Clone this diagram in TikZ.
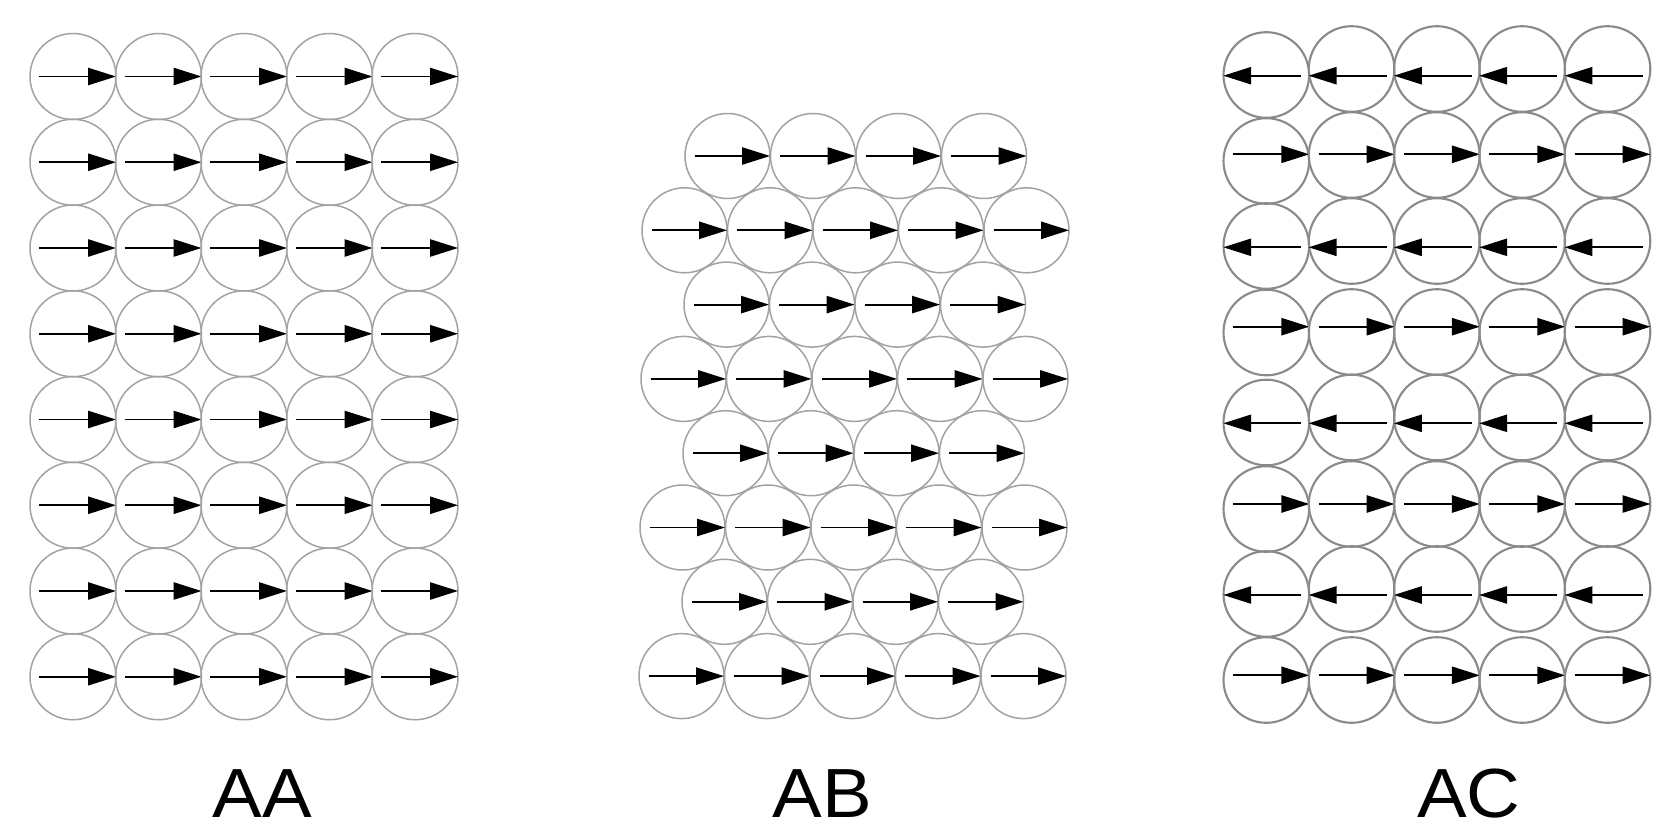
\documentclass[tikz,border=0pt]{standalone}
\usepackage{fontspec}
\setmainfont{Liberation Sans}
\usetikzlibrary{arrows.meta}
\definecolor{ballgray}{HTML}{A2A2A2}
\definecolor{ballgrayc}{HTML}{8A8A8A}
\tikzset{
  ball/.style={draw=ballgray, line width=0.85pt},
  ballc/.style={draw=ballgrayc, line width=1.2pt},
  spin/.style={line width=1.05pt, -{Triangle[length=15.9pt,width=9.8pt]}},
  tag/.style={font=\fontsize{39.6}{40}\selectfont, anchor=base, xscale=1.07, inner sep=0pt}
}
\begin{document}
\begin{tikzpicture}[x=0.02cm, y=-0.02cm]
  \useasboundingbox[fill=white] (0,0) rectangle (1654,825);

  % square stacking, all spins aligned
  \foreach \j in {0,...,7}{
    \foreach \i in {0,...,4}{
      \pgfmathsetmacro\cx{73+85.5*\i}
      \pgfmathsetmacro\cy{76.5+85.75*\j}
      \draw[ball] (\cx,\cy) circle[radius=43];
      \draw[spin] (\cx-34,\cy) -- (\cx+43,\cy);
    }
  }
  \node[tag] (labA) at (262,817) {AA};

  % close-packed stacking, rows of 4 and 5
  \foreach \j in {0,...,7}{
    \pgfmathtruncatemacro\odd{mod(\j,2)}
    \pgfmathsetmacro\cy{156+74.3*\j}
    \pgfmathsetmacro\xo{727.5-42.5*\odd-0.5*\j}
    \pgfmathtruncatemacro\n{3+\odd}
    \foreach \i in {0,...,\n}{
      \pgfmathsetmacro\cx{\xo+85.5*\i}
      \draw[ball] (\cx,\cy) circle[radius=42.5];
      \draw[spin] (\cx-33,\cy) -- (\cx+42.5,\cy);
    }
  }
  \node[tag] (labB) at (822,817) {AB};

  % square stacking, alternating spin rows
  % arrow y / first-column circle y / other circles y / direction
  \foreach \ay/\ca/\cb/\d in {75.7/75/69/-1, 154.3/161/155/1, 247.3/246/241/-1,
      326.7/332.5/332/1, 423.3/422.5/417.5/-1, 504/509/504/1,
      595/594/589/-1, 675.3/680/680/1}{
    \foreach \i in {0,...,4}{
      \pgfmathsetmacro\cx{1266.3+85.3*\i}
      \pgfmathsetmacro\cy{\i==0 ? \ca : \cb}
      \draw[ballc] (\cx,\cy) circle[radius=42.8];
      \ifnum\d=1
        \draw[spin] (\cx-33,\ay) -- (\cx+43,\ay);
      \else
        \draw[spin] (\cx+35,\ay) -- (\cx-43,\ay);
      \fi
    }
  }
  \node[tag] (labC) at (1469,817) {AC};
\end{tikzpicture}
\end{document}
